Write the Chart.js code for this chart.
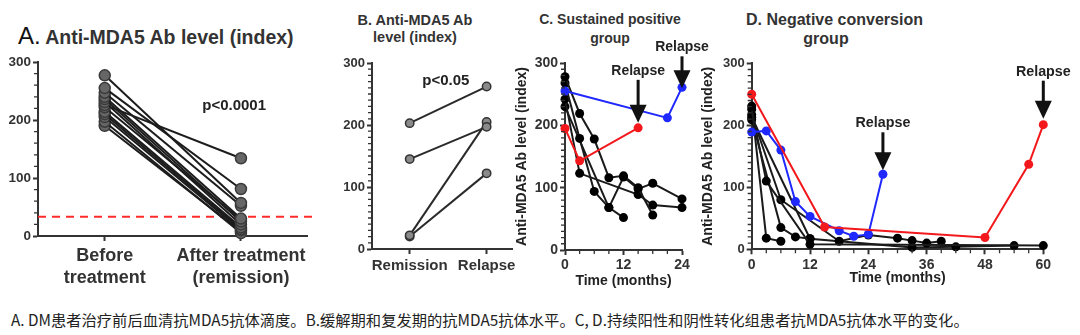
<!DOCTYPE html>
<html>
<head>
<meta charset="utf-8">
<script src="https://cdn.jsdelivr.net/npm/chart.js@4.4.1/dist/chart.umd.min.js"></script>
<style>
  body { margin: 0; background: #fff; }
  #wrap { position: relative; width: 1080px; height: 335px; overflow: hidden; font-family: "Liberation Sans", Arial, sans-serif; }
  canvas { position: absolute; }
  .ttl { position: absolute; font-weight: bold; color: #333; text-align: center; white-space: nowrap; }
  #caption { position: absolute; left: 11px; top: 308px; font-family: "Noto Sans CJK SC", sans-serif; font-size: 15.3px; color: #222; white-space: nowrap; }
</style>
</head>
<body>
<div id="wrap">
  <div class="ttl" style="left:18px; top:22px; text-align:left; line-height:28px;"><span style="font-weight:normal; color:#111; font-size:24px;">A.</span> <span style="font-size:19.5px;">Anti-MDA5 Ab level (index)</span></div>
  <div class="ttl" style="left:335px; top:12px; width:160px; font-size:14.5px; line-height:17px;">B. Anti-MDA5 Ab<br>level (index)</div>
  <div class="ttl" style="left:530px; top:10px; width:160px; font-size:14px; line-height:19px;">C. Sustained positive<br>group</div>
  <div class="ttl" style="left:746px; top:10px; width:160px; font-size:16px; line-height:19px;">D. Negative conversion<br>group</div>

  <canvas id="chartA" width="330" height="260" style="left:0; top:40px;"></canvas>
  <canvas id="chartB" width="190" height="260" style="left:335px; top:40px;"></canvas>
  <canvas id="chartC" width="210" height="260" style="left:505px; top:40px;"></canvas>
  <canvas id="chartD" width="380" height="260" style="left:695px; top:40px;"></canvas>

  <div id="caption">A. DM患者治疗前后血清抗MDA5抗体滴度。B.缓解期和复发期的抗MDA5抗体水平。C, D.持续阳性和阴性转化组患者抗MDA5抗体水平的变化。</div>
</div>

<script>
// ---- A: before vs after treatment (paired) ----
const labelsA = [['Before', 'treatment'], ['After treatment', '(remission)']];
const beforeA = [277, 255, 247, 240, 236, 231, 226, 222, 214, 210, 205, 197, 190];
const afterA = [57, 81, 52, 30, 25, 20, 134, 28, 15, 12, 10, 5, 8];
const cutoffA = 33;

// ---- B: remission vs relapse (paired) ----
const labelsB = ['Remission', 'Relapse'];
const remissionB = [203, 145, 22, 20];
const relapseB = [262, 197, 205, 122];

// ---- C: sustained positive group, [month, index] ----
const cBlue = [[0, 255], [21, 212], [24, 261]];
const cRed = [[0, 195], [3, 143], [15, 196]];
const cBlack1 = [[0, 278], [3, 219], [6, 178], [9, 116], [12, 119], [15, 100], [18, 56]];
const cBlack2 = [[0, 268], [3, 179], [6, 94], [9, 68], [12, 52]];
const cBlack3 = [[0, 242], [3, 123], [15, 89], [18, 72], [24, 68]];
const cBlack4 = [[0, 230], [9, 68], [12, 117], [15, 98], [18, 107], [24, 82]];

// ---- D: negative conversion group, [month, index] ----
const dRed = [[0, 250], [15, 36], [48, 19], [57, 137], [60, 201]];
const dBlue = [[0, 189], [3, 191], [6, 160], [9, 77], [12, 53], [18, 30], [21, 21], [24, 24], [27, 121]];
const dBlack1 = [[0, 231], [3, 18], [6, 13]];
const dBlack2 = [[0, 226], [3, 110], [12, 8], [60, 6]];
const dBlack3 = [[0, 217], [6, 80], [18, 13], [24, 23], [30, 18], [33, 14], [36, 10], [39, 13]];
const dBlack4 = [[0, 209], [6, 35], [9, 20], [12, 17]];
const dBlack5 = [[0, 213], [12, 17], [33, 3], [42, 4], [54, 6]];

const yTicks = [0, 100, 200, 300];
const monthTicksC = [0, 12, 24];
const monthTicksD = [0, 12, 24, 36, 48, 60];

const FONT = '"Liberation Sans", Arial, sans-serif';
const INK = '#333';
const RED = '#f2181c';
const BLUE = '#1e28ff';

// extra drawing: minor ticks, cutoff line, p-value text, relapse arrows
const decor = {
  id: 'decor',
  beforeDatasetsDraw(chart, args, o) {
    if (o.cutoff === undefined) return;
    const { ctx, chartArea: a, scales: { y } } = chart;
    const py = y.getPixelForValue(o.cutoff);
    ctx.save();
    ctx.strokeStyle = '#ff2b2b';
    ctx.lineWidth = 2;
    ctx.setLineDash([8, 6]);
    ctx.beginPath();
    ctx.moveTo(a.left, py);
    ctx.lineTo(a.right + 11, py);
    ctx.stroke();
    ctx.restore();
  },
  afterDraw(chart, args, o) {
    const { ctx, chartArea: a, scales: { x, y } } = chart;
    ctx.save();
    ctx.strokeStyle = INK;
    ctx.lineWidth = 1.3;
    ctx.beginPath();
    for (let v = y.min; v <= y.max; v += o.minorY) {
      if (v % 100 === 0) continue;
      const py = y.getPixelForValue(v);
      ctx.moveTo(a.left - 4, py);
      ctx.lineTo(a.left, py);
    }
    if (o.minorX) {
      for (let v = x.min; v <= x.max; v += o.minorX) {
        if (v % o.majorX === 0) continue;
        const px = x.getPixelForValue(v);
        ctx.moveTo(px, a.bottom);
        ctx.lineTo(px, a.bottom + 4);
      }
    }
    ctx.stroke();

    ctx.fillStyle = '#222';
    ctx.textAlign = 'center';
    ctx.textBaseline = 'middle';
    if (o.note) {
      ctx.font = 'bold ' + o.note.size + 'px ' + FONT;
      ctx.fillText(o.note.text, x.getPixelForValue(o.note.x), y.getPixelForValue(o.note.y));
    }
    (o.relapses || []).forEach(r => {
      const px = x.getPixelForValue(r.at[0]);
      const py = y.getPixelForValue(r.at[1]);
      const textY = py - r.rise;
      ctx.font = 'bold ' + r.size + 'px ' + FONT;
      ctx.fillStyle = '#222';
      ctx.fillText('Relapse', px, textY);
      const top = textY + 9, tip = py - r.gap, headH = 18, headW = 17;
      ctx.fillStyle = '#111';
      ctx.fillRect(px - 1.5, top, 3, tip - headH - top + 1);
      ctx.beginPath();
      ctx.moveTo(px - headW / 2, tip - headH);
      ctx.lineTo(px + headW / 2, tip - headH);
      ctx.lineTo(px, tip);
      ctx.closePath();
      ctx.fill();
    });
    ctx.restore();
  }
};

const toXY = pts => pts.map(([x, y]) => ({ x, y }));

function series(pts, color, fill, radius, border) {
  return {
    data: pts,
    borderColor: color,
    borderWidth: 2,
    pointRadius: radius,
    pointBackgroundColor: fill,
    pointBorderColor: border || fill,
    pointBorderWidth: border ? 1.5 : 0,
    clip: false,
    tension: 0
  };
}

function yAxis(width, size, title) {
  return {
    type: 'linear',
    min: 0,
    max: 300,
    afterBuildTicks: s => { s.ticks = yTicks.map(v => ({ value: v })); },
    afterFit: s => { s.width = width; },
    ticks: { color: INK, padding: 2, font: { family: FONT, size: size, weight: 'bold' } },
    grid: { display: true, drawOnChartArea: false, drawTicks: true, tickLength: 5, tickColor: INK, tickWidth: 2 },
    border: { color: INK, width: 2 },
    title: title || { display: false }
  };
}

function xAxis(opts) {
  return Object.assign({
    type: 'linear',
    ticks: { color: INK, padding: 2, maxRotation: 0, autoSkip: false, font: { family: FONT, size: 14, weight: 'bold' } },
    grid: { display: true, drawOnChartArea: false, drawTicks: true, tickLength: 5, tickColor: INK, tickWidth: 2 },
    border: { color: INK, width: 2 }
  }, opts);
}

function makeChart(id, datasets, scales, padding, decorOpts) {
  return new Chart(document.getElementById(id), {
    type: 'line',
    data: { datasets },
    options: {
      responsive: false,
      animation: false,
      layout: { padding },
      scales,
      plugins: { legend: { display: false }, tooltip: { enabled: false }, decor: decorOpts }
    },
    plugins: [decor]
  });
}

// ---- panel A ----
makeChart('chartA',
  beforeA.map((b, i) => series([{ x: 0, y: b }, { x: 1, y: afterA[i] }], '#1c1c1c', '#666', 5.5, '#3a3a3a')),
  {
    x: xAxis({
      min: -0.49, max: 1.485,
      afterBuildTicks: s => { s.ticks = [{ value: 0 }, { value: 1 }]; },
      afterFit: s => { s.height = 64; },
      ticks: { color: '#333', padding: 4, maxRotation: 0, autoSkip: false, callback: v => labelsA[v],
        font: { family: FONT, size: 18, weight: 'bold', lineHeight: 1.22 } }
    }),
    y: yAxis(38, 13.5)
  },
  { top: 22, right: 23, left: 0, bottom: 0 },
  { minorY: 20, cutoff: cutoffA, note: { x: 0.95, y: 224, text: 'p<0.0001', size: 15 } }
);

// ---- panel B ----
makeChart('chartB',
  remissionB.map((r, i) => series([{ x: 0, y: r }, { x: 1, y: relapseB[i] }], '#2a2a2a', '#8a8a8a', 4.2, '#333')),
  {
    x: xAxis({
      min: -0.49, max: 1.33,
      afterBuildTicks: s => { s.ticks = [{ value: 0 }, { value: 1 }]; },
      afterFit: s => { s.height = 51; },
      ticks: { color: '#333', padding: 3, maxRotation: 0, autoSkip: false, callback: v => labelsB[v],
        font: { family: FONT, size: 15, weight: 'bold' } }
    }),
    y: yAxis(37, 13)
  },
  { top: 23, right: 13, left: 0, bottom: 0 },
  { minorY: 10, note: { x: 0.47, y: 272, text: 'p<0.05', size: 15 } }
);

const yTitle = (size, pad) => ({
  display: true, text: 'Anti-MDA5 Ab level (index)', color: '#222',
  font: { family: FONT, size: size, weight: 'bold' }, padding: { top: pad, bottom: 0 }
});
const xTitle = (size, pad) => ({
  display: true, text: 'Time (months)', color: '#222',
  font: { family: FONT, size: size, weight: 'bold' }, padding: { top: 0, bottom: pad }
});

// ---- panel C ----
makeChart('chartC',
  [
    series(toXY(cBlue), BLUE, BLUE, 4.5),
    series(toXY(cRed), RED, RED, 4.5),
    series(toXY(cBlack1), '#1a1a1a', '#000', 4.5),
    series(toXY(cBlack2), '#1a1a1a', '#000', 4.5),
    series(toXY(cBlack3), '#1a1a1a', '#000', 4.5),
    series(toXY(cBlack4), '#1a1a1a', '#000', 4.5)
  ],
  {
    x: xAxis({
      min: 0, max: 24,
      afterBuildTicks: s => { s.ticks = monthTicksC.map(v => ({ value: v })); },
      afterFit: s => { s.height = 50; },
      title: xTitle(14, 10.5)
    }),
    y: yAxis(60, 14, yTitle(14, 8.6))
  },
  { top: 23, right: 33, left: 0, bottom: 0 },
  {
    minorY: 10, minorX: 3, majorX: 12,
    relapses: [
      { at: cRed[cRed.length - 1], rise: 57, gap: 5, size: 14 },
      { at: cBlue[cBlue.length - 1], rise: 40, gap: -1, size: 14 }
    ]
  }
);

// ---- panel D ----
makeChart('chartD',
  [
    series(toXY(dRed), RED, RED, 4.5),
    series(toXY(dBlue), BLUE, BLUE, 4.5),
    series(toXY(dBlack1), '#1a1a1a', '#000', 4.5),
    series(toXY(dBlack2), '#1a1a1a', '#000', 4.5),
    series(toXY(dBlack3), '#1a1a1a', '#000', 4.5),
    series(toXY(dBlack4), '#1a1a1a', '#000', 4.5),
    series(toXY(dBlack5), '#1a1a1a', '#000', 4.5)
  ],
  {
    x: xAxis({
      min: 0, max: 60,
      afterBuildTicks: s => { s.ticks = monthTicksD.map(v => ({ value: v })); },
      afterFit: s => { s.height = 50.7; },
      title: xTitle(14, 13)
    }),
    y: yAxis(56.7, 13, yTitle(14, 4.6))
  },
  { top: 23.3, right: 31.7, left: 0, bottom: 0 },
  {
    minorY: 10, minorX: 3, majorX: 12,
    relapses: [
      { at: dBlue[dBlue.length - 1], rise: 51, gap: 4, size: 14.3 },
      { at: dRed[dRed.length - 1], rise: 53, gap: 6, size: 14.3 }
    ]
  }
);
</script>
</body>
</html>
